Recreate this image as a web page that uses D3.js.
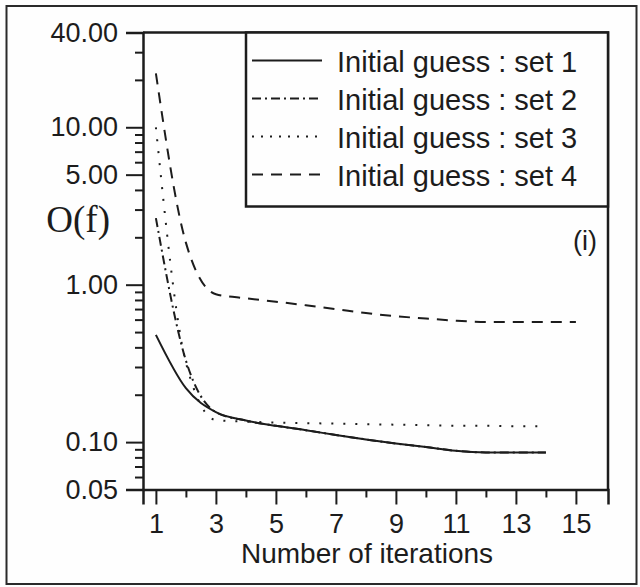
<!DOCTYPE html>
<html>
<head>
<meta charset="utf-8">
<script src="https://cdn.jsdelivr.net/npm/d3@7"></script>
<style>
  body { margin: 0; background: #fff; }
  svg { display: block; font-family: "Liberation Sans", Arial, sans-serif; }
</style>
</head>
<body>
<div id="chart"></div>
<script>
// data
var iterations = [1, 2, 3, 4, 5, 6, 7, 8, 9, 10, 11, 12, 13, 14, 15];
var set1 = [0.48, 0.22, 0.155, 0.137, 0.127, 0.119, 0.111, 0.104, 0.098, 0.093, 0.088, 0.086, 0.086, 0.086];
var set2 = [2.65, 0.33, 0.155, 0.137, 0.127, 0.119, 0.111, 0.104, 0.098, 0.093, 0.088, 0.086, 0.086, 0.086];
var set3 = [10, 0.32, 0.138, 0.135, 0.133, 0.132, 0.131, 0.130, 0.129, 0.128, 0.127, 0.127, 0.126, 0.126];
var set4 = [22, 1.85, 0.87, 0.82, 0.78, 0.74, 0.70, 0.66, 0.63, 0.61, 0.59, 0.58, 0.58, 0.58, 0.58];
var seriesNames = ["Initial guess : set 1", "Initial guess : set 2", "Initial guess : set 3", "Initial guess : set 4"];
var yMajor = [0.05, 0.1, 1, 5, 10, 40];
var yMinor = [0.06, 0.07, 0.08, 0.09, 0.2, 0.3, 0.4, 0.5, 0.6, 0.7, 0.8, 0.9, 2, 3, 4, 6, 7, 8, 9, 20, 30];
var xMajor = [1, 3, 5, 7, 9, 11, 13, 15];
var xMinor = [2, 4, 6, 8, 10, 12, 14];

var W = 640, H = 587;
var margin = {top: 32.5, right: 32, bottom: 97.5, left: 143},
    width = W - margin.left - margin.right,
    height = H - margin.top - margin.bottom;

var ink = "#1c1c1c";
var dashes = [null, "9,4,2,4", "2,10", "11,8"];

var x = d3.scaleLinear().domain([0.57, 16.07]).range([0, width]);
var y = d3.scaleLog().domain([0.05, 40]).range([height, 0]);

var svg = d3.select("#chart").append("svg")
    .attr("width", W)
    .attr("height", H);

svg.append("rect").attr("width", W).attr("height", H).attr("fill", "#fefefe");

// outer frame
svg.append("rect")
    .attr("x", 6.5).attr("y", 6).attr("width", 630).attr("height", 578)
    .attr("fill", "none").attr("stroke", "#2a2a2a").attr("stroke-width", 2);

var g = svg.append("g")
    .attr("transform", "translate(" + margin.left + "," + margin.top + ")");

// minor ticks
g.append("g")
    .attr("class", "y-minor")
    .call(d3.axisLeft(y).tickValues(yMinor).tickSize(8).tickFormat(""));
g.append("g")
    .attr("class", "x-minor")
    .attr("transform", "translate(0," + height + ")")
    .call(d3.axisBottom(x).tickValues(xMinor).tickSize(8).tickFormat(""));

// major ticks
g.append("g")
    .attr("class", "y-major")
    .call(d3.axisLeft(y).tickValues(yMajor).tickSize(17).tickPadding(8)
      .tickFormat(d3.format(".2f")));
g.append("g")
    .attr("class", "x-major")
    .attr("transform", "translate(0," + height + ")")
    .call(d3.axisBottom(x).tickValues(xMajor).tickSize(15).tickPadding(9)
      .tickFormat(d3.format("d")));

g.selectAll(".tick line").attr("stroke", ink).attr("stroke-width", 2);
g.selectAll(".domain").attr("stroke", ink).attr("stroke-width", 2.5);
g.selectAll(".y-major text").attr("font-size", 27).attr("fill", ink)
    .attr("font-family", "Liberation Sans, Arial, sans-serif");
g.selectAll(".x-major text").attr("font-size", 27).attr("fill", ink)
    .attr("font-family", "Liberation Sans, Arial, sans-serif");
g.selectAll(".x-minor .domain, .y-minor .domain").remove();

// plot frame (top and right)
g.append("path")
    .attr("d", "M0,0H" + width + "V" + height)
    .attr("fill", "none").attr("stroke", ink).attr("stroke-width", 2.5);

// curves
var allSets = [set1, set2, set3, set4];
var line = d3.line()
    .x(function(d) { return x(d[0]); })
    .y(function(d) { return y(d[1]); })
    .curve(d3.curveMonotoneX);

allSets.forEach(function(vals, i) {
  var pts = vals.map(function(v, j) { return [iterations[j], v]; });
  g.append("path")
      .datum(pts)
      .attr("d", line)
      .attr("fill", "none")
      .attr("stroke", ink)
      .attr("stroke-width", 2)
      .attr("stroke-dasharray", dashes[i]);
});

// legend
var lx = 246 - margin.left, ly = 0;
g.append("rect")
    .attr("x", lx).attr("y", ly)
    .attr("width", width - lx).attr("height", 174)
    .attr("fill", "#fefefe").attr("stroke", ink).attr("stroke-width", 2.5);

var items = g.selectAll(".legend-item").data(seriesNames).enter()
  .append("g")
    .attr("class", "legend-item")
    .attr("transform", function(d, i) { return "translate(" + (lx + 6) + "," + (28 + i * 38) + ")"; });
items.append("line")
    .attr("x1", 0).attr("x2", 70)
    .attr("stroke", ink).attr("stroke-width", 2)
    .attr("stroke-dasharray", function(d, i) { return i == 2 ? "2,7" : dashes[i]; });
items.append("text")
    .attr("x", 85).attr("y", 11)
    .attr("font-size", 29).attr("fill", ink)
    .text(function(d) { return d; });

// labels
svg.append("text")
    .attr("x", 110).attr("y", 232)
    .attr("text-anchor", "end")
    .attr("font-family", "Liberation Serif, 'Times New Roman', serif")
    .attr("font-size", 37).attr("fill", ink)
    .text("O(f)");

svg.append("text")
    .attr("x", 597).attr("y", 250)
    .attr("text-anchor", "end")
    .attr("font-size", 27).attr("fill", ink)
    .text("(i)");

svg.append("text")
    .attr("x", 367).attr("y", 563)
    .attr("text-anchor", "middle")
    .attr("font-size", 28).attr("fill", ink)
    .text("Number of iterations");
</script>
</body>
</html>
